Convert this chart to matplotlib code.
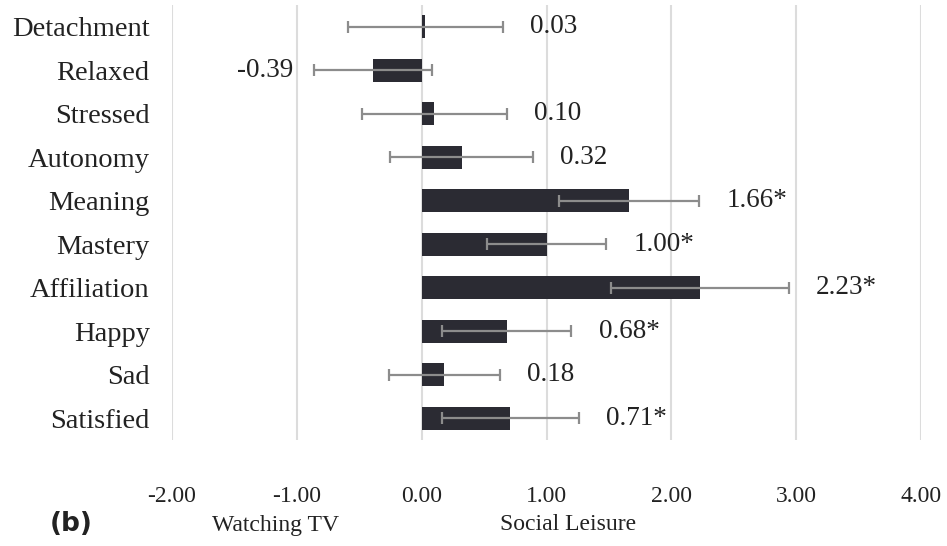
import matplotlib
matplotlib.use("Agg")
import matplotlib.pyplot as plt
import numpy as np

categories = ["Detachment", "Relaxed", "Stressed", "Autonomy", "Meaning",
              "Mastery", "Affiliation", "Happy", "Sad", "Satisfied"]
values = [0.03, -0.39, 0.10, 0.32, 1.66, 1.00, 2.23, 0.68, 0.18, 0.71]
errors = [0.62, 0.47, 0.58, 0.57, 0.56, 0.48, 0.71, 0.52, 0.445, 0.55]
labels = ["0.03", "-0.39", "0.10", "0.32", "1.66*", "1.00*", "2.23*", "0.68*", "0.18", "0.71*"]
xticks = [-2, -1, 0, 1, 2, 3, 4]
xticklabels = ["-2.00", "-1.00", "0.00", "1.00", "2.00", "3.00", "4.00"]

serif = ["Liberation Serif", "DejaVu Serif"]

fig = plt.figure(figsize=(9.47, 5.46), dpi=100)
ax = fig.add_axes([0.1816, 0.194, 0.7910, 0.797])

y = np.arange(len(categories))
ax.barh(y, values, height=0.53, color="#2b2b33", zorder=2)
ax.errorbar(values, y, xerr=errors, fmt="none", ecolor="#8c8c8c",
            elinewidth=1.6, capsize=4, capthick=1.6, zorder=3)

for yi, v, e, lab in zip(y, values, errors, labels):
    if v < 0:
        ax.text(v - e - 0.17, yi, lab, ha="right", va="center",
                fontsize=19.5, family=serif, color="#222222")
    else:
        ax.text(v + e + 0.22, yi, lab, ha="left", va="center",
                fontsize=19.5, family=serif, color="#222222")

ax.set_xlim(-2, 4)
ax.set_ylim(len(categories) - 0.5, -0.5)
ax.set_xticks(xticks)
ax.set_xticklabels(xticklabels, family=serif, fontsize=17)
ax.set_yticks(y)
ax.set_yticklabels(categories, family=serif, fontsize=20.5)
ax.tick_params(axis="both", length=0, colors="#222222")
ax.tick_params(axis="x", pad=33)
ax.tick_params(axis="y", pad=16)
ax.grid(axis="x", color="#dcdcdc", linewidth=1.5, zorder=0)
ax.set_axisbelow(True)
for s in ax.spines.values():
    s.set_visible(False)

fig.text(50 / 947, 1 - 524 / 546, "(b)", ha="left", va="center",
         fontsize=19, fontweight="bold", family=["DejaVu Sans"], color="#222222")
fig.text(212 / 947, 1 - 525 / 546, "Watching TV", ha="left", va="center",
         fontsize=17, family=serif, color="#222222")
fig.text(500 / 947, 1 - 525 / 546, "Social Leisure", ha="left", va="center",
         fontsize=17, family=serif, color="#222222")

fig.savefig("out.png", dpi=100)
